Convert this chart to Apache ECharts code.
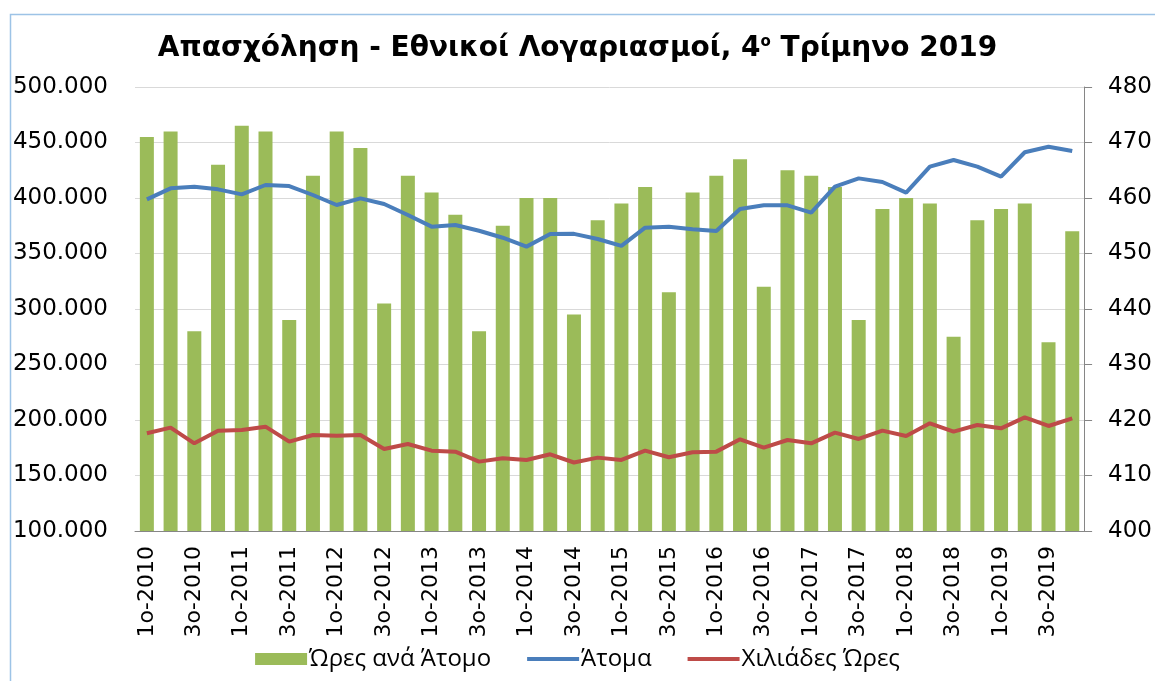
<!DOCTYPE html>
<html>
<head>
<meta charset="UTF-8">
<title>Απασχόληση - Εθνικοί Λογαριασμοί</title>
<script src="https://cdn.jsdelivr.net/npm/echarts@6/dist/echarts.min.js"></script>
<style type="text/css">
body{margin:0;padding:0;background:#fff;}
#main{width:1155px;height:681px;}
</style>
</head>
<body>
<div id="main"></div>
<script type="text/javascript">
// τρίμηνα 2010-2019
var years = [2010, 2011, 2012, 2013, 2014, 2015, 2016, 2017, 2018, 2019];
var quarters = [];
years.forEach(function (y) {
    ['1ο', '2ο', '3ο', '4ο'].forEach(function (q) { quarters.push(q + '-' + y); });
});

// Ώρες ανά Άτομο (δεξιός άξονας)
var hoursPerPerson = [471, 472, 436, 466, 473, 472, 438, 464, 472, 469,
    441, 464, 461, 457, 436, 455, 460, 460, 439, 456,
    459, 462, 443, 461, 464, 467, 444, 465, 464, 462,
    438, 458, 460, 459, 435, 456, 458, 459, 434, 454];

// Άτομα (αριστερός άξονας)
var persons = [398800, 408700, 410200, 407800, 403300, 411700, 410800, 402700, 393700, 399700,
    394600, 384700, 374200, 375700, 370500, 364200, 356200, 367600, 367700, 363100,
    356800, 373300, 374200, 371800, 370300, 390100, 393400, 393400, 386800, 410200,
    417700, 414400, 404800, 428200, 434200, 428200, 419200, 441200, 446200, 442300];

// Χιλιάδες Ώρες (αριστερός άξονας)
var thousandHours = [188000, 193100, 179000, 190400, 191000, 194000, 180500, 186500, 185900, 186500,
    173900, 178400, 172400, 171500, 162500, 165500, 164000, 169100, 161700, 166100,
    164000, 172400, 166400, 170900, 171500, 182600, 175100, 182000, 179000, 188600,
    182900, 190400, 185600, 197000, 189500, 195500, 192500, 202400, 194600, 201500];

function fmt(v) {
    return String(v).replace(/\B(?=(\d{3})+(?!\d))/g, '.');
}

var myChart = echarts.init(document.getElementById('main'));
var font = 'DejaVu Sans';
var lineIcon = 'path://M0,0 L52,0 L52,4 L0,4 Z';

myChart.setOption({
    animation: false,
    backgroundColor: '#fff',
    graphic: [{
        type: 'rect',
        left: 8, top: 12,
        shape: {width: 1200, height: 720},
        style: {fill: 'none', stroke: '#9dc3e6', lineWidth: 1.5},
        silent: true
    }],
    title: {
        left: 'center',
        top: 30,
        text: '{a|Απασχόληση - Εθνικοί Λογαριασμοί, 4}{s|ο}{a| Τρίμηνο 2019}',
        textStyle: {
            rich: {
                a: {fontFamily: font, fontWeight: 'bold', fontSize: 28, color: '#000', verticalAlign: 'bottom'},
                s: {fontFamily: font, fontSize: 15, color: '#000', verticalAlign: 'top', padding: [0, 0, 12, 0]}
            }
        }
    },
    legend: {
        bottom: 5,
        left: 'center',
        itemWidth: 52,
        itemHeight: 12,
        itemGap: 36,
        textStyle: {fontFamily: 'Open Sans', fontSize: 24, color: '#000', padding: [0, 0, 0, -3]},
        data: [
            {name: 'Ώρες ανά Άτομο', icon: 'rect'},
            {name: 'Άτομα', icon: lineIcon},
            {name: 'Χιλιάδες Ώρες', icon: lineIcon}
        ]
    },
    grid: {left: 135, right: 70, top: 87, bottom: 150},
    xAxis: {
        type: 'category',
        data: quarters,
        axisLine: {lineStyle: {color: '#868686', width: 1}},
        axisTick: {show: false},
        axisLabel: {
            interval: 1,
            rotate: 90,
            margin: 15,
            fontFamily: font,
            fontSize: 22,
            color: '#000'
        }
    },
    yAxis: [{
        type: 'value',
        min: 100000,
        max: 500000,
        interval: 50000,
        axisLine: {show: false},
        axisTick: {show: false},
        splitLine: {lineStyle: {color: '#d9d9d9', width: 1}},
        axisLabel: {
            formatter: fmt,
            fontFamily: font,
            fontSize: 23,
            color: '#000',
            margin: 27
        }
    }, {
        type: 'value',
        min: 400,
        max: 480,
        interval: 10,
        axisLine: {show: true, lineStyle: {color: '#868686', width: 1}},
        axisTick: {show: true, inside: false, length: 8, lineStyle: {color: '#868686'}},
        splitLine: {show: false},
        axisLabel: {
            fontFamily: font,
            fontSize: 23,
            color: '#000',
            margin: 24
        }
    }],
    series: [{
        name: 'Ώρες ανά Άτομο',
        type: 'bar',
        yAxisIndex: 1,
        barWidth: 14,
        clip: true,
        itemStyle: {color: '#9bbb59'},
        data: hoursPerPerson
    }, {
        name: 'Άτομα',
        type: 'line',
        yAxisIndex: 0,
        symbol: 'none',
        lineStyle: {color: '#4a7ebb', width: 4},
        itemStyle: {color: '#4a7ebb'},
        data: persons
    }, {
        name: 'Χιλιάδες Ώρες',
        type: 'line',
        yAxisIndex: 0,
        symbol: 'none',
        lineStyle: {color: '#be4b48', width: 4},
        itemStyle: {color: '#be4b48'},
        data: thousandHours
    }]
});
</script>
</body>
</html>
